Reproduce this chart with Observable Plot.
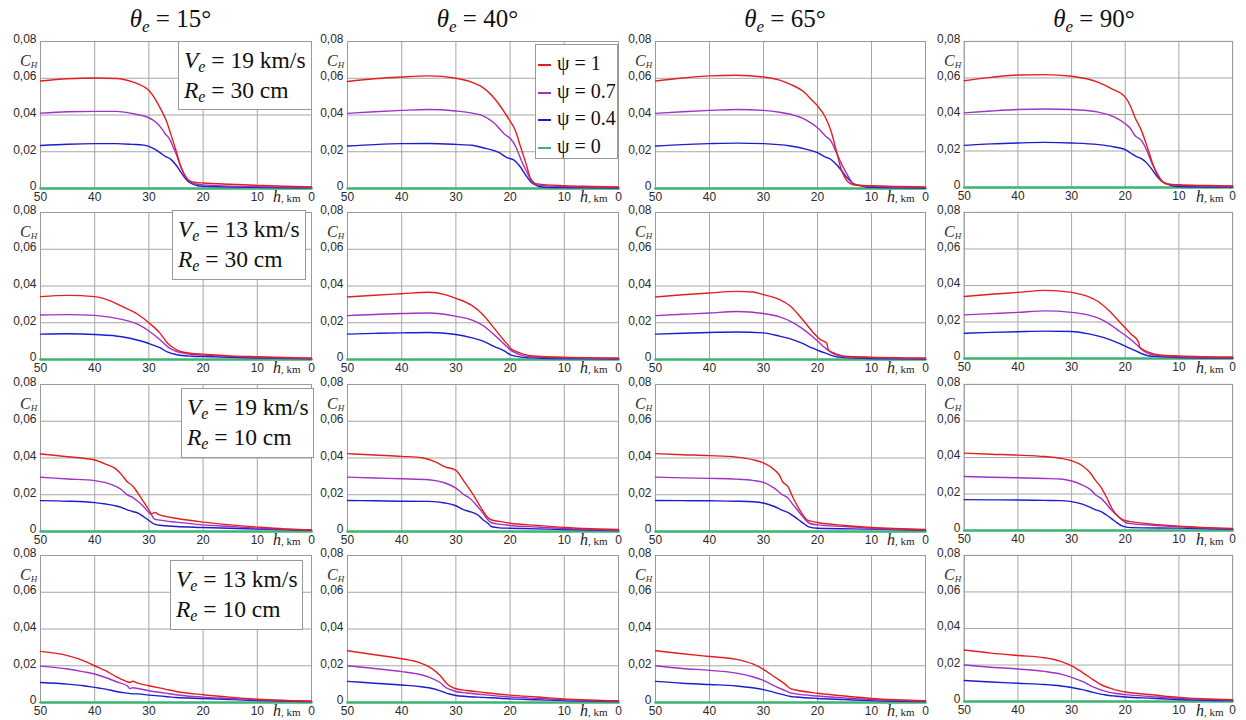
<!DOCTYPE html>
<html><head><meta charset="utf-8">
<script src="https://cdn.jsdelivr.net/npm/d3@7"></script>
<script src="https://cdn.jsdelivr.net/npm/@observablehq/plot@0.6"></script>
<style>
body{margin:0;background:#fff;}
#root{position:relative;width:1246px;height:720px;overflow:hidden;background:#fff;}
.panel{position:absolute;}
.title{position:absolute;font-family:"Liberation Serif","Times New Roman",serif;font-size:25px;color:#111;white-space:nowrap;transform:translate(-50%,-50%);}
.title sub,.note sub{font-size:0.68em;vertical-align:-0.28em;line-height:0;}
.ch{position:absolute;font-family:"Liberation Serif",serif;font-style:italic;font-size:16px;color:#333;}
.ch sub{font-size:9px;vertical-align:-2px;}
.hkm{position:absolute;font-family:"Liberation Serif",serif;font-size:11px;color:#222;white-space:nowrap;}
.hkm i{font-size:16px;}
.note{position:absolute;background:#fff;border:1px solid #999;box-sizing:border-box;font-family:"Liberation Serif","Times New Roman",serif;font-size:23.5px;line-height:30px;color:#111;padding:3px 0 0 5px;white-space:nowrap;}
.legend{position:absolute;background:#fff;border:1px solid #999;box-sizing:border-box;font-family:"Liberation Serif","Times New Roman",serif;font-size:20px;color:#111;}
.legend .row{position:absolute;left:2px;height:28px;line-height:28px;white-space:nowrap;}
.legend .sw{display:inline-block;width:13px;height:2px;vertical-align:middle;margin-right:6px;}
</style>
</head><body><div id="root"></div>
<script>
// ---------- labels ----------
const thetas = [15, 40, 65, 90];
const rowVe = [19, 13, 19, 13];
const rowRe = [30, 30, 10, 10];
const psiLabels = ["1", "0.7", "0.4", "0"];
const xTicks = [50, 40, 30, 20, 10, 0];
const yTicks = [0, 0.02, 0.04, 0.06, 0.08];
const psi0 = [[50, 0], [0, 0]];

// ---------- Row 1: Ve = 19 km/s, Re = 30 cm ----------
const r1t15_psi1 = [[50,.0585],[45,.0597],[40,.0601],[36,.0599],[33,.058],[31,.0555],[30,.0533],[28.7,.048],[27.5,.0414],[26.8,.037],[26,.030],[25,.0207],[24,.011],[23,.0055],[22,.0036],[21,.0032],[20,.003],[15,.0023],[10,.0017],[5,.0012],[0,.0009]];
const r1t15_psi07 = [[50,.041],[45,.0418],[40,.042],[36,.042],[33,.0408],[31,.0395],[30,.0385],[28.7,.036],[27.5,.032],[27,.0298],[26.2,.027],[25.5,.0225],[25,.019],[24,.011],[23,.0055],[22,.003],[21,.0023],[20,.002],[10,.001],[0,.0007]];
const r1t15_psi04 = [[50,.0234],[45,.0241],[40,.0244],[36,.0244],[33,.024],[31,.0236],[30,.0229],[28.7,.021],[27.5,.0185],[27,.0175],[26,.016],[25,.0128],[24,.0085],[23,.0045],[22,.0025],[21,.0015],[20,.0012],[10,.0006],[0,.0004]];

const r1t40_psi1 = [[50,.0582],[45,.0597],[40,.0607],[35,.0613],[30,.060],[27,.0578],[25,.0549],[22.5,.0476],[21,.0413],[20,.0367],[19,.0313],[18,.022],[17,.013],[16.3,.0058],[15.5,.003],[15,.0025],[10,.0015],[5,.0011],[0,.0008]];
const r1t40_psi07 = [[50,.0409],[45,.0418],[40,.0425],[35,.043],[30,.0422],[27,.041],[25,.0395],[23,.0358],[21,.0295],[20,.0273],[19,.023],[18,.0158],[17,.0095],[16,.004],[15,.002],[10,.001],[0,.0006]];
const r1t40_psi04 = [[50,.0231],[45,.0239],[40,.0244],[35,.0245],[30,.024],[27,.0235],[25,.0222],[22,.0195],[20.5,.0167],[19.5,.0158],[18,.0113],[17,.0067],[16,.0031],[15,.0015],[14,.0008],[10,.0005],[0,.0003]];

const r1t65_psi1 = [[50,.0585],[45,.0601],[40,.0613],[35,.0616],[30,.0607],[27,.059],[25,.0567],[22.5,.0525],[21,.048],[20,.045],[18.5,.0385],[17.5,.0313],[16.5,.0204],[15.5,.0095],[14.5,.004],[13.5,.0022],[12.5,.0018],[10,.0015],[5,.0011],[0,.0008]];
const r1t65_psi07 = [[50,.0409],[45,.0418],[40,.0425],[35,.043],[30,.0425],[27,.0415],[25,.0404],[22,.0371],[20,.0331],[18.5,.0285],[17.5,.0258],[16.5,.0195],[15.5,.0131],[14.5,.0076],[13.5,.003],[12.5,.0018],[10,.0012],[0,.0006]];
const r1t65_psi04 = [[50,.0231],[45,.0239],[40,.0244],[35,.0247],[30,.0244],[25,.0231],[22,.0213],[20,.0195],[18.5,.0171],[17.5,.0158],[16.5,.0131],[15.5,.0095],[14.5,.0058],[13.5,.003],[12.5,.0018],[11,.0008],[10,.0006],[0,.0003]];

const r1t90_psi1 = [[50,.0585],[45,.0603],[40,.0616],[35,.0618],[30,.0609],[25,.0576],[22.5,.054],[20,.0495],[19,.0444],[18.2,.0385],[17,.0313],[16,.0231],[15,.014],[14,.0067],[13,.0031],[12,.0018],[10,.0015],[5,.0011],[0,.0008]];
const r1t90_psi07 = [[50,.0409],[45,.0419],[40,.0427],[35,.043],[30,.0427],[25,.0413],[22,.0385],[20,.0349],[19,.0322],[18.2,.0285],[17,.0258],[16,.0204],[15,.0131],[14,.0076],[13,.003],[12,.0018],[10,.0012],[0,.0006]];
const r1t90_psi04 = [[50,.0231],[45,.0239],[40,.0244],[35,.0247],[30,.0244],[25,.0235],[22,.0222],[20,.0207],[19,.0189],[18,.0171],[17,.0158],[16,.0135],[15,.0098],[14,.0058],[13,.003],[12,.0018],[11,.0008],[10,.0006],[0,.0003]];

// ---------- Row 2: Ve = 13 km/s, Re = 30 cm ----------
const r2t15_psi1 = [[50,.0342],[45,.0349],[40,.0342],[37,.0318],[35,.029],[32,.0245],[30,.020],[28,.0145],[26.5,.0087],[25.5,.0064],[24,.0042],[22,.0033],[20,.0029],[15,.002],[10,.0015],[0,.0008]];
const r2t15_psi07 = [[50,.0242],[45,.0244],[40,.024],[35,.0218],[32,.0191],[30,.0155],[28,.0109],[26.5,.0069],[25.5,.0051],[24,.0036],[22,.0027],[20,.0024],[10,.0012],[0,.0006]];
const r2t15_psi04 = [[50,.0138],[45,.014],[40,.0136],[35,.0124],[32,.0105],[30,.0087],[28,.0064],[26.5,.004],[25,.0027],[24,.0022],[22,.0018],[20,.0016],[10,.0008],[0,.0004]];

const r2t40_psi1 = [[50,.034],[45,.035],[40,.0358],[35,.0366],[32,.0353],[30,.0333],[27,.0293],[25,.0244],[23,.0172],[21,.010],[20.3,.0076],[20,.0063],[19,.0045],[18,.0033],[17,.0025],[15,.0018],[10,.0013],[0,.0008]];
const r2t40_psi07 = [[50,.0239],[45,.0245],[40,.025],[35,.0253],[30,.0235],[27,.0214],[25,.0185],[23,.0136],[21,.0081],[20,.0054],[19,.0036],[18,.0024],[17,.0018],[15,.0013],[10,.0009],[0,.0005]];
const r2t40_psi04 = [[50,.0138],[45,.0142],[40,.0145],[35,.0147],[30,.0136],[27,.0118],[25,.010],[23,.0072],[21,.0045],[20,.0027],[19,.0018],[18,.0013],[15,.0008],[10,.0005],[0,.0003]];

const r2t65_psi1 = [[50,.034],[45,.0352],[40,.0362],[35,.0371],[32,.0367],[30,.0353],[27,.0326],[25,.029],[23,.0226],[21,.0154],[19.5,.0109],[18.3,.009],[18,.0054],[17,.0036],[16,.0025],[15,.0018],[10,.0013],[0,.0008]];
const r2t65_psi07 = [[50,.0239],[45,.0246],[40,.0253],[35,.0261],[30,.025],[27,.0232],[25,.0208],[23,.0172],[21,.0127],[19.5,.0087],[18.2,.0054],[17,.0031],[16,.0022],[15,.0015],[10,.001],[0,.0005]];
const r2t65_psi04 = [[50,.0138],[45,.0143],[40,.0147],[35,.015],[30,.0145],[27,.0127],[25,.0112],[23,.009],[21,.0063],[19.5,.0045],[18.2,.0031],[17,.0018],[16,.0013],[15,.001],[10,.0005],[0,.0003]];

const r2t90_psi1 = [[50,.034],[45,.0352],[40,.0362],[35,.0373],[32,.0369],[30,.0362],[27,.034],[25,.0311],[23,.0262],[21,.0199],[19,.0136],[17.5,.009],[17.3,.0063],[16.5,.0045],[15.5,.0033],[14.5,.0024],[13,.0018],[10,.0014],[0,.0008]];
const r2t90_psi07 = [[50,.0239],[45,.0246],[40,.0253],[35,.0261],[30,.0253],[27,.0239],[25,.0221],[23,.019],[21,.0148],[19,.0105],[17.4,.0063],[16.5,.004],[15.5,.0025],[14.5,.0018],[10,.001],[0,.0005]];
const r2t90_psi04 = [[50,.0138],[45,.0143],[40,.0147],[35,.015],[30,.0148],[27,.0136],[25,.0123],[23,.0105],[21,.0081],[19,.0054],[17.4,.0033],[16.5,.0022],[15.5,.0014],[14,.0011],[10,.0006],[0,.0003]];

// ---------- Row 3: Ve = 19 km/s, Re = 10 cm ----------
const r3t15_psi1 = [[50,.0422],[45,.0407],[40,.0389],[38,.0367],[36,.0338],[35,.0308],[34,.0271],[33,.0248],[32,.0208],[31,.0163],[30,.0118],[29.5,.0096],[29,.0103],[28,.009],[25,.0072],[20,.0051],[15,.0036],[10,.0024],[5,.0014],[0,.0009]];
const r3t15_psi07 = [[50,.0295],[45,.0286],[40,.0277],[38,.0266],[36,.0244],[35,.0226],[34,.0199],[33,.0186],[32,.0163],[31,.0136],[30,.0103],[29.5,.009],[29,.0067],[28,.0062],[25,.0051],[20,.0036],[15,.0027],[10,.0018],[5,.0013],[0,.0009]];
const r3t15_psi04 = [[50,.0168],[45,.0165],[40,.0157],[38,.015],[36,.0139],[35,.013],[34,.0118],[33,.0109],[32,.010],[31,.0081],[30,.006],[29,.004],[28,.0034],[25,.0027],[20,.0022],[10,.0013],[0,.0007]];

const r3t40_psi1 = [[50,.0424],[45,.0416],[40,.0409],[36,.040],[34,.0382],[32,.0352],[30,.0333],[28.5,.0273],[27,.0209],[25.5,.0136],[24,.0073],[23.5,.0064],[22,.0055],[20,.0045],[15,.0033],[10,.0022],[5,.0015],[0,.0011]];
const r3t40_psi07 = [[50,.0296],[45,.0291],[40,.0287],[35,.0282],[32,.0264],[30,.0236],[28.5,.020],[27.5,.0182],[26,.0136],[25,.010],[24,.006],[23.5,.0049],[22,.004],[20,.0033],[15,.0024],[10,.0016],[0,.0007]];
const r3t40_psi04 = [[50,.0169],[45,.0167],[40,.0165],[35,.0164],[32,.0155],[30,.014],[28.5,.0118],[27.5,.0109],[26,.0091],[25,.0064],[24,.0042],[23.5,.0027],[22,.002],[20,.0018],[10,.0011],[0,.0005]];

const r3t65_psi1 = [[50,.0424],[45,.0418],[40,.0413],[35,.0405],[32,.0391],[30,.0373],[28,.0336],[27,.0304],[26.5,.0273],[25.5,.0245],[24.5,.0182],[23.5,.0127],[22.5,.0082],[21.8,.006],[21,.0055],[20,.0049],[15,.0033],[10,.0022],[0,.0011]];
const r3t65_psi07 = [[50,.0296],[45,.0292],[40,.0289],[35,.0285],[32,.0278],[30,.0267],[28,.0236],[26.5,.020],[25.5,.0182],[24.5,.0145],[23.5,.0109],[22.5,.0073],[21.5,.0045],[20,.0036],[15,.0027],[10,.0018],[0,.0009]];
const r3t65_psi04 = [[50,.0169],[45,.0168],[40,.0167],[35,.0165],[32,.0162],[30,.0155],[28,.0136],[26.5,.0115],[25.5,.0104],[24.5,.0085],[23.5,.0064],[22.5,.0042],[21.5,.0024],[20,.0018],[10,.0013],[0,.0007]];

const r3t90_psi1 = [[50,.0424],[45,.0418],[40,.0413],[35,.0405],[32,.0395],[30,.0382],[28,.0355],[26.5,.0315],[25.5,.0273],[24.5,.0236],[23.5,.0182],[22.5,.0122],[21.5,.0082],[20.5,.006],[20,.0055],[19,.0049],[15,.0035],[10,.0024],[0,.0011]];
const r3t90_psi07 = [[50,.0296],[45,.0292],[40,.0289],[35,.0285],[32,.0282],[30,.0271],[28,.0249],[26.5,.0224],[25.5,.0195],[24.5,.0176],[23.5,.0145],[22.5,.0109],[21.5,.0082],[20.5,.0055],[20,.0045],[19,.0038],[15,.0029],[10,.002],[0,.0009]];
const r3t90_psi04 = [[50,.0169],[45,.0168],[40,.0167],[35,.0165],[32,.0164],[30,.0158],[28,.0145],[26.5,.0127],[25.5,.0113],[24.5,.0104],[23.5,.0085],[22.5,.0064],[21.5,.0042],[20.5,.0024],[20,.002],[19,.0016],[10,.0013],[0,.0007]];

// ---------- Row 4: Ve = 13 km/s, Re = 10 cm ----------
const r4t15_psi1 = [[50,.0278],[45,.0255],[42,.0227],[40,.020],[38,.0173],[36,.014],[34,.0113],[33.5,.0109],[33,.0116],[32,.0105],[30,.0091],[27,.0073],[25,.006],[20,.0042],[15,.0029],[10,.0018],[5,.0011],[0,.0007]];
const r4t15_psi07 = [[50,.0198],[45,.0182],[42,.0167],[40,.0155],[38,.0136],[36,.0113],[34,.0091],[33.5,.0076],[33,.008],[32,.0076],[30,.0064],[27,.0051],[25,.0042],[20,.0029],[15,.0022],[10,.0015],[5,.0011],[0,.0007]];
const r4t15_psi04 = [[50,.0109],[45,.010],[42,.0091],[40,.0082],[38,.0073],[36,.006],[34,.0051],[33,.0047],[32,.0047],[30,.004],[27,.0033],[25,.0027],[20,.0022],[15,.0016],[10,.0011],[0,.0005]];

const r4t40_psi1 = [[50,.0282],[45,.026],[40,.0238],[37,.022],[35,.0195],[33,.015],[31.5,.0098],[31,.0088],[30,.0075],[28,.0065],[25,.0055],[20,.004],[15,.003],[10,.002],[0,.001]];
const r4t40_psi07 = [[50,.020],[45,.0185],[40,.0168],[37,.0155],[35,.0138],[33,.011],[31.5,.0075],[31,.007],[30,.006],[28,.0052],[25,.0043],[20,.003],[15,.0022],[10,.0015],[0,.0008]];
const r4t40_psi04 = [[50,.0115],[45,.0105],[40,.0095],[37,.0088],[35,.008],[33,.0065],[31.5,.0048],[31,.0045],[30,.0038],[28,.0033],[25,.0028],[20,.002],[15,.0015],[10,.001],[0,.0005]];

const r4t65_psi1 = [[50,.0282],[45,.0265],[40,.025],[35,.0235],[32,.021],[30,.018],[28,.014],[26,.010],[25,.0075],[24,.0068],[20,.005],[15,.0035],[10,.0022],[0,.001]];
const r4t65_psi07 = [[50,.020],[45,.0185],[40,.0175],[35,.016],[32,.014],[30,.012],[28,.009],[26,.0065],[25,.0052],[24,.0047],[20,.0035],[15,.0025],[10,.0016],[0,.0008]];
const r4t65_psi04 = [[50,.0115],[45,.0105],[40,.0098],[35,.009],[32,.008],[30,.007],[28,.0055],[26,.004],[25,.0033],[24,.003],[20,.0022],[15,.0016],[10,.001],[0,.0005]];

const r4t90_psi1 = [[50,.0282],[45,.0265],[40,.0252],[35,.024],[32,.022],[30,.0195],[28,.016],[26,.012],[24,.0085],[23,.0075],[22,.0065],[20,.0052],[15,.0037],[10,.0023],[0,.001]];
const r4t90_psi07 = [[50,.020],[45,.0188],[40,.0178],[35,.0165],[32,.015],[30,.0132],[28,.011],[26,.008],[24,.0058],[23,.005],[22,.0045],[20,.0038],[15,.0027],[10,.0017],[0,.0008]];
const r4t90_psi04 = [[50,.0115],[45,.0107],[40,.010],[35,.0093],[32,.0085],[30,.0077],[28,.0065],[26,.005],[24,.0038],[23,.0033],[22,.003],[20,.0025],[15,.0018],[10,.0011],[0,.0005]];

// ---------- assembly ----------
const grid = [
  [[r1t15_psi1,r1t15_psi07,r1t15_psi04],[r1t40_psi1,r1t40_psi07,r1t40_psi04],[r1t65_psi1,r1t65_psi07,r1t65_psi04],[r1t90_psi1,r1t90_psi07,r1t90_psi04]],
  [[r2t15_psi1,r2t15_psi07,r2t15_psi04],[r2t40_psi1,r2t40_psi07,r2t40_psi04],[r2t65_psi1,r2t65_psi07,r2t65_psi04],[r2t90_psi1,r2t90_psi07,r2t90_psi04]],
  [[r3t15_psi1,r3t15_psi07,r3t15_psi04],[r3t40_psi1,r3t40_psi07,r3t40_psi04],[r3t65_psi1,r3t65_psi07,r3t65_psi04],[r3t90_psi1,r3t90_psi07,r3t90_psi04]],
  [[r4t15_psi1,r4t15_psi07,r4t15_psi04],[r4t40_psi1,r4t40_psi07,r4t40_psi04],[r4t65_psi1,r4t65_psi07,r4t65_psi04],[r4t90_psi1,r4t90_psi07,r4t90_psi04]]
];
const colors = ["#e41e1e", "#a032c8", "#1c1cd0", "#3cb371"];

const colAxisX = [40, 347, 655, 964];
const colPlotW = [271, 271, 270, 270];
const rowPlotTop = [41, 212, 384, 555];
const plotH = 147;
const mL = 40, mR = 14, mT = 10, mB = 20;

const root = document.getElementById("root");
const fmt = d => d === 0 ? "0" : d.toFixed(2).replace(".", ",");

function el(cls, html, css) {
  const d = document.createElement("div");
  d.className = cls; d.innerHTML = html;
  Object.assign(d.style, css);
  root.appendChild(d);
  return d;
}

for (let r = 0; r < 4; r++) {
  for (let c = 0; c < 4; c++) {
    const series = grid[r][c];
    const marks = [
      Plot.gridX(xTicks, {stroke: "#a6a6a6", strokeOpacity: 1}),
      Plot.gridY(yTicks, {stroke: "#a6a6a6", strokeOpacity: 1}),
      Plot.frame({stroke: "#9a9a9a"}),
      Plot.axisY({ticks: yTicks, tickSize: 0, tickPadding: 4, tickFormat: fmt, label: null, dy: -2}),
      Plot.axisX({ticks: xTicks, tickSize: 0, tickPadding: 4, tickFormat: d => String(d), label: null}),
      Plot.line(psi0, {x: d => d[0], y: d => d[1], stroke: colors[3], strokeWidth: 2.6}),
      ...[2, 1, 0].map(i => Plot.line(series[i], {x: d => d[0], y: d => d[1], stroke: colors[i], strokeWidth: 1.4, curve: "monotone-x"}))
    ];
    const svg = Plot.plot({
      width: mL + colPlotW[c] + mR,
      height: mT + plotH + mB,
      marginLeft: mL, marginRight: mR, marginTop: mT, marginBottom: mB,
      x: {domain: [50, 0]},
      y: {domain: [0, 0.08]},
      style: {background: "transparent", overflow: "visible", fontFamily: "'Liberation Sans', Arial, sans-serif", fontSize: "12px", color: "#2a2a2a"},
      marks
    });
    const wrap = el("panel", "", {left: (colAxisX[c] - mL) + "px", top: (rowPlotTop[r] - mT) + "px"});
    wrap.appendChild(svg);
    // C_H label
    el("ch", "C<sub>H</sub>", {left: (colAxisX[c] - 20) + "px", top: (rowPlotTop[r] + 11) + "px"});
    // h, km label
    el("hkm", "<i>h</i>, km", {left: (colAxisX[c] + colPlotW[c] - 38) + "px", top: (rowPlotTop[r] + plotH) + "px"});
  }
}

// column titles
for (let c = 0; c < 4; c++) {
  el("title", `<i>θ<sub>e</sub></i> = ${thetas[c]}°`, {left: (colAxisX[c] + colPlotW[c] / 2 - 5) + "px", top: "19px"});
}

// condition boxes (column 1)
const noteBoxes = [[178, 41, 134, 69], [172, 210, 134, 70], [181, 388, 133, 70], [170, 560, 133, 70]];
for (let r = 0; r < 4; r++) {
  const [x, y, w, h] = noteBoxes[r];
  el("note", `<i>V<sub>e</sub></i> = ${rowVe[r]} km/s<br><i>R<sub>e</sub></i> = ${rowRe[r]} cm`,
     {left: x + "px", top: y + "px", width: w + "px", height: h + "px"});
}

// legend (row 1, column 2)
const lg = el("legend", "", {left: "535px", top: "44px", width: "83px", height: "115px"});
psiLabels.forEach((p, i) => {
  const row = document.createElement("div");
  row.className = "row";
  row.style.top = (4 + i * 27.5) + "px";
  row.innerHTML = `<span class="sw" style="background:${colors[i]}"></span>ψ = ${p}`;
  lg.appendChild(row);
});
</script>
</body></html>
